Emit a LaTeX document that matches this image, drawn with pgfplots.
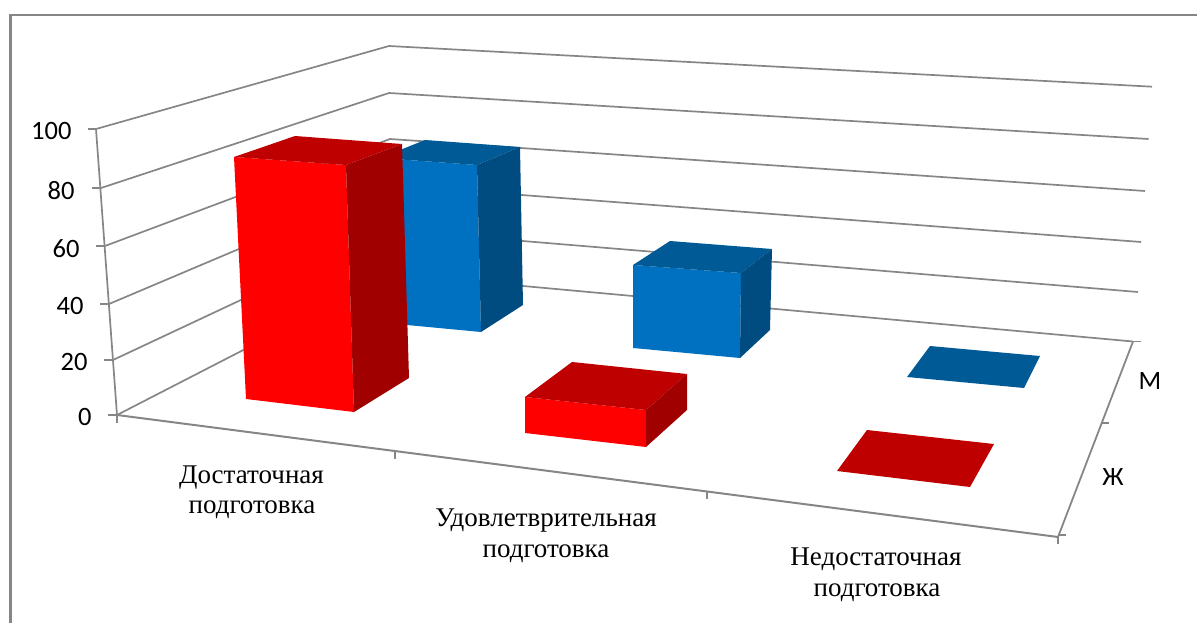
\documentclass[border=0pt]{standalone}
\usepackage{pgfplots}
\pgfplotsset{compat=1.18}
\usepackage{fontspec}
\setmainfont{Liberation Serif}
\newfontfamily\calib{Carlito}
\definecolor{grid}{HTML}{868686}
\definecolor{redF}{HTML}{FF0000}
\definecolor{redT}{HTML}{BE0000}
\definecolor{redS}{HTML}{A00000}
\definecolor{bluF}{HTML}{0070C0}
\definecolor{bluT}{HTML}{005A96}
\definecolor{bluS}{HTML}{004C80}
\pgfplotsset{
 ln/.style={draw=grid,line width=1.7pt,no marks,forget plot},
 fc/.style={draw=none,fill=#1,no marks,forget plot},
}
\begin{document}
\begin{tikzpicture}
\begin{axis}[
  width=1197pt,height=623pt,scale only axis,
  xmin=0,xmax=1197,ymin=0,ymax=623,y dir=reverse,
  hide axis,clip=true,
  every node/.append style={inner sep=0pt,outer sep=0pt},
]
% frame
\addplot[ln,line width=2.2pt] coordinates {(10.5,623) (10.5,15) (1197,15)};
% walls gridlines
\addplot[ln] coordinates {(96,129) (389,46) (1152,86.7)};
\addplot[ln] coordinates {(101,188) (389,93) (1148.5,139)};
\addplot[ln] coordinates {(105,246) (390,139) (1145,191)};
\addplot[ln] coordinates {(109,304) (390,185) (1141,242)};
\addplot[ln] coordinates {(113,360) (390,230) (1138,292)};
\addplot[ln] coordinates {(117,415) (391,274) (1133,341.5)};
% value axis and floor edges
\addplot[ln] coordinates {(96,129) (117,415)};
\addplot[ln,line width=2pt] coordinates {(117,415) (1058,537)};
\addplot[ln,line width=1.8pt] coordinates {(1133,341.5) (1058,537)};
% ticks
\addplot[ln] coordinates {(88,129) (96,129)};
\addplot[ln] coordinates {(92,188) (101,188)};
\addplot[ln] coordinates {(96,246) (105,246)};
\addplot[ln] coordinates {(100,304) (109,304)};
\addplot[ln] coordinates {(104,360) (113,360)};
\addplot[ln] coordinates {(108,415) (117,415)};
\addplot[ln] coordinates {(117,415) (117,423)};
\addplot[ln] coordinates {(395,452) (395,459)};
\addplot[ln] coordinates {(707,492) (707,499)};
\addplot[ln] coordinates {(1058,537) (1058,544)};
\addplot[ln] coordinates {(1133,341.5) (1141,341.5)};
\addplot[ln] coordinates {(1102,423) (1109,423)};
\addplot[ln] coordinates {(1058,535) (1066,535)};
% blue 1
\addplot[fc=bluF] coordinates {(380,158) (477,165) (481,332) (386,323)} --cycle;
\addplot[fc=bluT] coordinates {(380,158) (425,140) (520,147) (477,165)} --cycle;
\addplot[fc=bluS] coordinates {(477,165) (520,147) (523,305) (481,332)} --cycle;
% red 1
\addplot[fc=redF] coordinates {(234,157) (346,165) (354,412) (246,399)} --cycle;
\addplot[fc=redT] coordinates {(234,157) (295,136) (402,144) (346,165)} --cycle;
\addplot[fc=redS] coordinates {(346,165) (402,144) (409,378) (354,412)} --cycle;
% blue 2
\addplot[fc=bluF] coordinates {(633,265) (741,273) (740,358) (633,348)} --cycle;
\addplot[fc=bluT] coordinates {(633,265) (670,241) (772,249) (741,273)} --cycle;
\addplot[fc=bluS] coordinates {(741,273) (772,249) (770,330) (740,358)} --cycle;
% red 2
\addplot[fc=redF] coordinates {(525,397) (646,410) (646,447) (525,433)} --cycle;
\addplot[fc=redT] coordinates {(525,397) (572,362) (687,374) (646,410)} --cycle;
\addplot[fc=redS] coordinates {(646,410) (687,374) (687,410) (646,447)} --cycle;
% flat
\addplot[fc=bluT] coordinates {(930,346) (1040,356) (1024,388) (907,377)} --cycle;
\addplot[fc=redT] coordinates {(867,430) (994,444) (970,487) (837,471)} --cycle;
% labels
\newcommand\vl[3]{\node[anchor=base east,font=\calib\fontsize{26.5}{26.5}\selectfont,text=black] at (axis cs:#1,#2) {#3};}
\vl{75}{140}{100}
\vl{78}{199}{80}
\vl{83}{257}{60}
\vl{87}{314}{40}
\vl{91}{370}{20}
\vl{95}{425}{0}
\newcommand\cl[3]{\node[anchor=base,font=\fontsize{27}{27}\selectfont,text=black] at (axis cs:#1,#2) {#3};}
\cl{251.5}{483}{Достаточная}
\cl{252}{513}{подготовка}
\cl{546}{526}{Удовлетврительная}
\cl{546}{557}{подготовка}
\cl{876}{565}{Недостаточная}
\cl{877}{596}{подготовка}
\node[anchor=base,font=\calib\fontsize{26.5}{26.5}\selectfont] at (axis cs:1150,389) {М};
\node[anchor=base,font=\calib\fontsize{26.5}{26.5}\selectfont] at (axis cs:1113,485) {Ж};
\end{axis}
\pgfresetboundingbox
\path[use as bounding box] (0,0) rectangle (1197pt,623pt);
\end{tikzpicture}
\end{document}
